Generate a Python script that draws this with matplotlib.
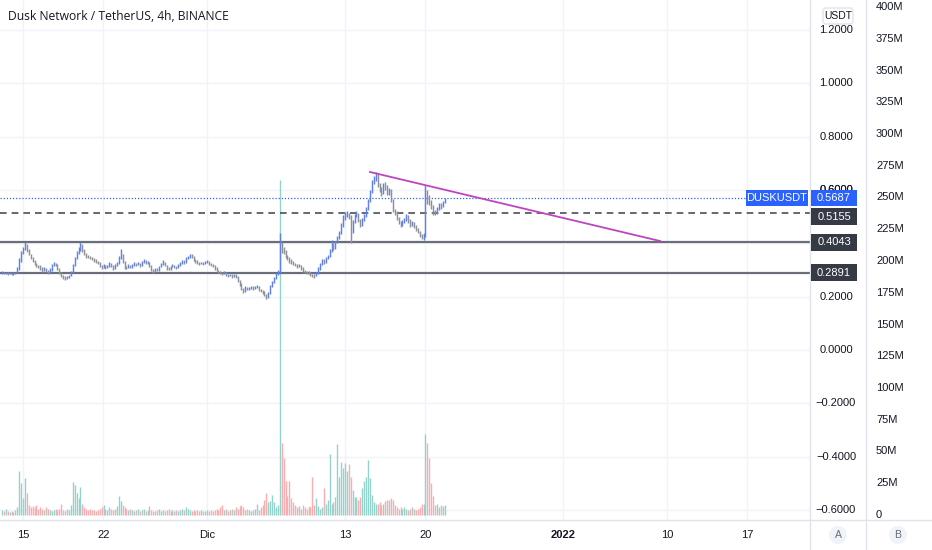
"""
Dusk Network / TetherUS 4h chart, redrawn with matplotlib.
"""

import matplotlib
matplotlib.use('Agg')
import matplotlib.pyplot as plt
import matplotlib.transforms as mtransforms
from matplotlib.patches import Rectangle, Circle, FancyBboxPatch
from matplotlib.lines import Line2D
import numpy as np

# 4h bars, first bar Nov 13 04:00 (time axis in days since Nov 15 00:00)
first_bar_day = -11 / 6
first_open = 0.290

close_prices = [
    0.292, 0.288, 0.290, 0.286, 0.289, 0.284, 0.287, 0.290, 0.305, 0.335,
    0.365, 0.380, 0.392, 0.372, 0.360, 0.345, 0.335, 0.325, 0.318, 0.312,
    0.310, 0.300, 0.305, 0.298, 0.290, 0.302, 0.318, 0.325, 0.322, 0.305,
    0.290, 0.280, 0.272, 0.268, 0.275, 0.279, 0.292, 0.318, 0.345, 0.365,
    0.378, 0.392, 0.372, 0.360, 0.352, 0.350, 0.346, 0.342, 0.336, 0.332,
    0.328, 0.318, 0.310, 0.318, 0.310, 0.314, 0.325, 0.315, 0.308, 0.318,
    0.325, 0.345, 0.360, 0.330, 0.312, 0.310, 0.318, 0.312, 0.320, 0.325,
    0.322, 0.326, 0.318, 0.330, 0.335, 0.326, 0.330, 0.315, 0.302, 0.296,
    0.305, 0.300, 0.312, 0.322, 0.330, 0.318, 0.308, 0.306, 0.312, 0.318,
    0.314, 0.310, 0.318, 0.326, 0.334, 0.328, 0.345, 0.350, 0.358, 0.352,
    0.340, 0.332, 0.330, 0.326, 0.328, 0.325, 0.330, 0.332, 0.325, 0.322,
    0.315, 0.308, 0.300, 0.295, 0.290, 0.288, 0.292, 0.284, 0.280, 0.282,
    0.278, 0.282, 0.276, 0.262, 0.248, 0.232, 0.220, 0.235, 0.230, 0.234,
    0.238, 0.230, 0.236, 0.240, 0.228, 0.222, 0.218, 0.210, 0.198, 0.212,
    0.240, 0.255, 0.270, 0.285, 0.295, 0.395, 0.380, 0.370, 0.355, 0.345,
    0.335, 0.330, 0.325, 0.322, 0.315, 0.318, 0.308, 0.300, 0.296, 0.292,
    0.290, 0.282, 0.280, 0.278, 0.288, 0.305, 0.322, 0.335, 0.330, 0.345,
    0.352, 0.372, 0.395, 0.380, 0.405, 0.420, 0.440, 0.470, 0.495, 0.505,
    0.512, 0.500, 0.445, 0.480, 0.505, 0.512, 0.490, 0.470, 0.488, 0.505,
    0.530, 0.560, 0.595, 0.630, 0.645, 0.655, 0.620, 0.600, 0.590, 0.620,
    0.610, 0.590, 0.600, 0.560, 0.525, 0.515, 0.495, 0.480, 0.470, 0.480,
    0.490, 0.505, 0.485, 0.470, 0.480, 0.465, 0.455, 0.445, 0.432, 0.420,
    0.430, 0.575, 0.570, 0.555, 0.540, 0.520, 0.515, 0.530, 0.545, 0.538, 0.555, 0.5687,
]

high_prices = [
    0.296, 0.294, 0.293, 0.291, 0.292, 0.290, 0.291, 0.294, 0.310, 0.345,
    0.372, 0.388, 0.405, 0.398, 0.378, 0.362, 0.348, 0.338, 0.328, 0.320,
    0.318, 0.312, 0.310, 0.308, 0.300, 0.306, 0.322, 0.330, 0.328, 0.324,
    0.308, 0.292, 0.282, 0.276, 0.279, 0.283, 0.296, 0.322, 0.350, 0.372,
    0.385, 0.405, 0.398, 0.378, 0.364, 0.358, 0.352, 0.348, 0.344, 0.340,
    0.334, 0.330, 0.320, 0.322, 0.320, 0.318, 0.329, 0.326, 0.318, 0.322,
    0.330, 0.352, 0.380, 0.362, 0.334, 0.316, 0.322, 0.320, 0.324, 0.329,
    0.328, 0.330, 0.328, 0.334, 0.340, 0.336, 0.334, 0.332, 0.318, 0.304,
    0.308, 0.306, 0.316, 0.326, 0.336, 0.332, 0.320, 0.312, 0.316, 0.322,
    0.320, 0.316, 0.322, 0.330, 0.338, 0.336, 0.348, 0.354, 0.362, 0.360,
    0.354, 0.342, 0.336, 0.332, 0.332, 0.330, 0.334, 0.336, 0.334, 0.327,
    0.324, 0.318, 0.310, 0.302, 0.297, 0.293, 0.296, 0.294, 0.287, 0.287,
    0.285, 0.286, 0.284, 0.278, 0.264, 0.250, 0.234, 0.240, 0.238, 0.238,
    0.242, 0.240, 0.240, 0.244, 0.242, 0.230, 0.225, 0.220, 0.212, 0.216,
    0.245, 0.260, 0.275, 0.290, 0.300, 0.440, 0.405, 0.385, 0.374, 0.358,
    0.348, 0.340, 0.334, 0.328, 0.324, 0.322, 0.320, 0.310, 0.302, 0.298,
    0.295, 0.292, 0.286, 0.284, 0.292, 0.310, 0.328, 0.340, 0.342, 0.350,
    0.358, 0.378, 0.414, 0.402, 0.410, 0.428, 0.446, 0.478, 0.505, 0.518,
    0.522, 0.515, 0.505, 0.486, 0.512, 0.520, 0.515, 0.492, 0.494, 0.512,
    0.538, 0.566, 0.602, 0.638, 0.652, 0.668, 0.660, 0.628, 0.610, 0.628,
    0.632, 0.618, 0.608, 0.604, 0.565, 0.530, 0.520, 0.500, 0.485, 0.486,
    0.496, 0.512, 0.508, 0.490, 0.485, 0.482, 0.470, 0.458, 0.448, 0.434,
    0.438, 0.620, 0.600, 0.580, 0.562, 0.545, 0.525, 0.535, 0.552, 0.550, 0.560, 0.572,
]

low_prices = [
    0.286, 0.284, 0.285, 0.282, 0.284, 0.280, 0.282, 0.285, 0.288, 0.302,
    0.330, 0.360, 0.375, 0.368, 0.355, 0.340, 0.330, 0.320, 0.312, 0.306,
    0.302, 0.294, 0.296, 0.292, 0.286, 0.288, 0.298, 0.314, 0.316, 0.300,
    0.284, 0.274, 0.266, 0.262, 0.265, 0.272, 0.276, 0.290, 0.315, 0.340,
    0.360, 0.372, 0.368, 0.355, 0.346, 0.344, 0.340, 0.336, 0.330, 0.326,
    0.322, 0.312, 0.304, 0.306, 0.304, 0.306, 0.312, 0.310, 0.302, 0.305,
    0.315, 0.322, 0.340, 0.325, 0.305, 0.304, 0.306, 0.306, 0.308, 0.316,
    0.316, 0.318, 0.312, 0.316, 0.326, 0.322, 0.322, 0.312, 0.298, 0.290,
    0.292, 0.295, 0.298, 0.310, 0.318, 0.314, 0.302, 0.300, 0.302, 0.310,
    0.308, 0.304, 0.308, 0.316, 0.324, 0.322, 0.325, 0.340, 0.345, 0.346,
    0.334, 0.326, 0.324, 0.320, 0.322, 0.320, 0.322, 0.326, 0.320, 0.316,
    0.310, 0.302, 0.295, 0.288, 0.284, 0.282, 0.285, 0.278, 0.275, 0.276,
    0.272, 0.274, 0.270, 0.256, 0.242, 0.226, 0.214, 0.218, 0.226, 0.226,
    0.230, 0.226, 0.228, 0.232, 0.222, 0.216, 0.212, 0.204, 0.192, 0.196,
    0.210, 0.236, 0.250, 0.266, 0.280, 0.290, 0.365, 0.360, 0.346, 0.338,
    0.328, 0.322, 0.318, 0.314, 0.308, 0.310, 0.302, 0.294, 0.290, 0.286,
    0.284, 0.276, 0.274, 0.272, 0.276, 0.286, 0.302, 0.318, 0.322, 0.326,
    0.342, 0.348, 0.368, 0.374, 0.378, 0.400, 0.415, 0.436, 0.462, 0.488,
    0.498, 0.492, 0.402, 0.440, 0.476, 0.498, 0.482, 0.462, 0.465, 0.484,
    0.500, 0.525, 0.555, 0.590, 0.622, 0.636, 0.612, 0.592, 0.578, 0.585,
    0.600, 0.582, 0.582, 0.555, 0.518, 0.505, 0.488, 0.472, 0.462, 0.465,
    0.476, 0.484, 0.478, 0.462, 0.465, 0.458, 0.448, 0.438, 0.425, 0.415,
    0.413, 0.425, 0.548, 0.545, 0.530, 0.508, 0.506, 0.510, 0.525, 0.530, 0.535, 0.550,
]

# volume in millions
volumes = [
    4, 3, 5, 3, 2, 3, 2, 4, 6, 35,
    25, 13, 29, 17, 8, 6, 7, 6, 8, 5,
    6, 5, 4, 6, 5, 4, 3, 4, 5, 4,
    5, 9, 4, 3, 5, 4, 8, 26, 24, 17,
    13, 22, 9, 6, 5, 4, 5, 4, 4, 3,
    4, 5, 6, 8, 5, 4, 6, 5, 4, 5,
    7, 15, 11, 8, 6, 5, 4, 5, 4, 3,
    4, 5, 3, 4, 5, 3, 4, 7, 4, 3,
    3, 4, 5, 3, 4, 3, 4, 5, 3, 4,
    3, 4, 3, 4, 5, 4, 6, 5, 4, 3,
    4, 3, 4, 3, 4, 3, 3, 4, 3, 4,
    3, 4, 5, 4, 6, 8, 4, 5, 3, 4,
    5, 4, 6, 5, 7, 8, 6, 4, 5, 4,
    3, 4, 5, 9, 4, 6, 8, 12, 17, 10,
    11, 16, 10, 6, 8, 264, 57, 45, 27, 15,
    27, 13, 10, 8, 6, 7, 5, 8, 6, 5,
    7, 6, 30, 8, 13, 7, 5, 6, 21, 9,
    12, 48, 9, 10, 14, 56, 30, 42, 37, 41,
    35, 40, 30, 20, 14, 14, 12, 14, 21, 27,
    30, 43, 29, 16, 10, 9, 9, 10, 8, 9,
    11, 12, 12, 13, 12, 8, 6, 5, 6, 5,
    6, 5, 4, 5, 6, 5, 4, 5, 6, 9,
    9, 64, 57, 45, 25, 15, 8, 9, 6, 8, 7, 8,
]

# drawn levels and trend line
last_price = 0.5687
dashed_level = 0.5155
solid_levels = [0.4043, 0.2891]
trend_days = [30.17, 55.39]
trend_prices = [0.668, 0.409]

# axis ticks
time_ticks = [0, 7, 16, 28, 35, 47, 56, 63]
time_labels = ['15', '22', 'Dic', '13', '20', '2022', '10', '17']
price_ticks = [1.2, 1.0, 0.8, 0.6, 0.4, 0.2, 0.0, -0.2, -0.4, -0.6]
volume_ticks = list(range(0, 401, 25))

title = 'Dusk Network / TetherUS, 4h, BINANCE'
symbol = 'DUSKUSDT'

# Colors
UP = '#5f82e6'
DOWN = '#8f9199'
VOL_UP = '#93d3cc'
VOL_DOWN = '#f6aeb0'
GRID = '#f0f3fa'
BORDER = '#e0e3eb'
TEXT = '#131722'
BLUE = '#2962ff'
DARK = '#363a45'

W, H = 932, 550
PLOT_RIGHT, TIME_AXIS = 810, 520

closes = np.array(close_prices)
opens = np.concatenate([[first_open], closes[:-1]])
highs = np.maximum(np.array(high_prices), np.maximum(opens, closes))
lows = np.minimum(np.array(low_prices), np.minimum(opens, closes))
vols = np.array(volumes, dtype=float)
days = first_bar_day + np.arange(len(closes)) / 6
up = closes >= opens

fig = plt.figure(figsize=(W / 100, H / 100), dpi=100)
fig.patch.set_facecolor('white')
ax = fig.add_axes([0, (H - TIME_AXIS) / H, PLOT_RIGHT / W, TIME_AXIS / H])
ax2 = ax.twinx()
ax.set_zorder(ax2.get_zorder() + 1)
ax.patch.set_visible(False)

# x: 11.5 px per day, Nov 15 at x=23
ax.set_xlim(-23 / 11.5, (PLOT_RIGHT - 23) / 11.5)
# price: y = 350 - 266.5 * p (pixels from top)
ax.set_ylim((350 - TIME_AXIS) / 266.5, 350 / 266.5)
# volume: y = 515 - 1.27 * v
ax2.set_ylim((515 - TIME_AXIS) / 1.27, 515 / 1.27)

for a in (ax, ax2):
    for s in a.spines.values():
        s.set_visible(False)
    a.set_xticks([])
    a.set_yticks([])

# Grid (under the volume)
grid_trans = mtransforms.blended_transform_factory(ax2.transAxes, ax.transData)
for p in price_ticks:
    ax2.plot([0, 1], [p, p], color=GRID, lw=1, transform=grid_trans, zorder=0)
for d in time_ticks:
    ax2.axvline(d, color=GRID, lw=1, zorder=0)

# Volume bars
ax2.vlines(days, 0, vols, colors=np.where(up, VOL_UP, VOL_DOWN), lw=1.0, zorder=1)

# OHLC bars (ticks are sub-pixel at this zoom, so just the high-low stroke)
colors = np.where(up, UP, DOWN)
ax.vlines(days, lows, highs, colors=colors, lw=1.05, zorder=3)

# Levels and trend line
ax.axhline(last_price, color=BLUE, lw=0.9, ls=(0, (1, 1.5)), zorder=2)
ax.axhline(dashed_level, color='#4c4f5a', lw=1.2, ls=(0, (4, 3)), zorder=2)
for lvl in solid_levels:
    ax.axhline(lvl, color='#6b6e78', lw=1.6, zorder=2)
ax.plot(trend_days, trend_prices, color='#bf45c0', lw=1.3, zorder=4)

# Borders
pix = mtransforms.IdentityTransform()
for x in (PLOT_RIGHT, 866):
    fig.add_artist(Line2D([x, x], [0, H], transform=pix, color=BORDER, lw=1))
fig.add_artist(Line2D([0, W], [H - TIME_AXIS, H - TIME_AXIS], transform=pix, color=BORDER, lw=1))

font = 'Liberation Sans'

# Title
fig.text(8, H - 17, title, transform=pix, fontsize=8.7, family='Open Sans',
         color=TEXT, va='center', ha='left', weight='medium')

# Time axis labels
time_trans = mtransforms.blended_transform_factory(ax.transData, pix)
for d, lab in zip(time_ticks, time_labels):
    fig.text(d, H - 535, lab, transform=time_trans, fontsize=8, family=font,
             color=TEXT, ha='center', va='center',
             weight='bold' if lab == '2022' else 'normal')

# Price axis labels (the ones sitting under a level badge are hidden, as on screen)
badge_levels = [last_price, dashed_level] + solid_levels
price_trans = mtransforms.blended_transform_factory(pix, ax.transData)
for p in price_ticks:
    if any(abs(p - b) < 0.02 for b in badge_levels):
        continue
    lab = f'{p:.4f}'.replace('-', '\u2212')
    fig.text(836, p, lab, transform=price_trans, fontsize=8, family=font,
             color=TEXT, ha='center', va='center')
# 0.6000 peeks out above the last-price badge
fig.text(836, 0.6, '0.6000', transform=price_trans, fontsize=8, family=font,
         color=TEXT, ha='center', va='center')

# Volume axis labels
vol_trans = mtransforms.blended_transform_factory(pix, ax2.transData)
for v in volume_ticks:
    fig.text(876, v, f'{v}M' if v else '0', transform=vol_trans, fontsize=8,
             family=font, color=TEXT, ha='left', va='center')


def price_label(y_center, text, face, x0=811, x1=857, h=16):
    fig.add_artist(Rectangle((x0, y_center - h / 2), x1 - x0, h, transform=pix,
                             facecolor=face, edgecolor='none', zorder=10))
    fig.text((x0 + x1) / 2, y_center, text, transform=pix, fontsize=8,
             family=font, color='white', ha='center', va='center', zorder=11)


def level_y(p):
    return ax.transData.transform((0, p))[1]


last_y = level_y(last_price)
price_label(last_y, f'{last_price:.4f}', BLUE)
price_label(last_y, symbol, BLUE, x0=746, x1=808)
dash_y = min(level_y(dashed_level), last_y - 18.5)
price_label(dash_y, f'{dashed_level:.4f}', DARK, h=17)
for lvl in solid_levels:
    price_label(level_y(lvl), f'{lvl:.4f}', DARK, h=17)

# Currency badge
fig.add_artist(FancyBboxPatch((823, H - 24), 30, 16, transform=pix,
                              boxstyle='round,pad=0,rounding_size=3',
                              facecolor='white', edgecolor=BORDER, lw=1, zorder=10))
fig.text(838, H - 16, 'USDT', transform=pix, fontsize=7.5, family=font,
         color=TEXT, ha='center', va='center', zorder=11)

# Scale mode buttons
for cx, lab in ((838, 'A'), (898, 'B')):
    fig.add_artist(Circle((cx, H - 535), 9, transform=pix, facecolor=GRID,
                          edgecolor='none', zorder=10))
    fig.text(cx, H - 535, lab, transform=pix, fontsize=7.5, family=font,
             color='#6a6d78', ha='center', va='center', zorder=11)

fig.savefig('out.png', dpi=100)
